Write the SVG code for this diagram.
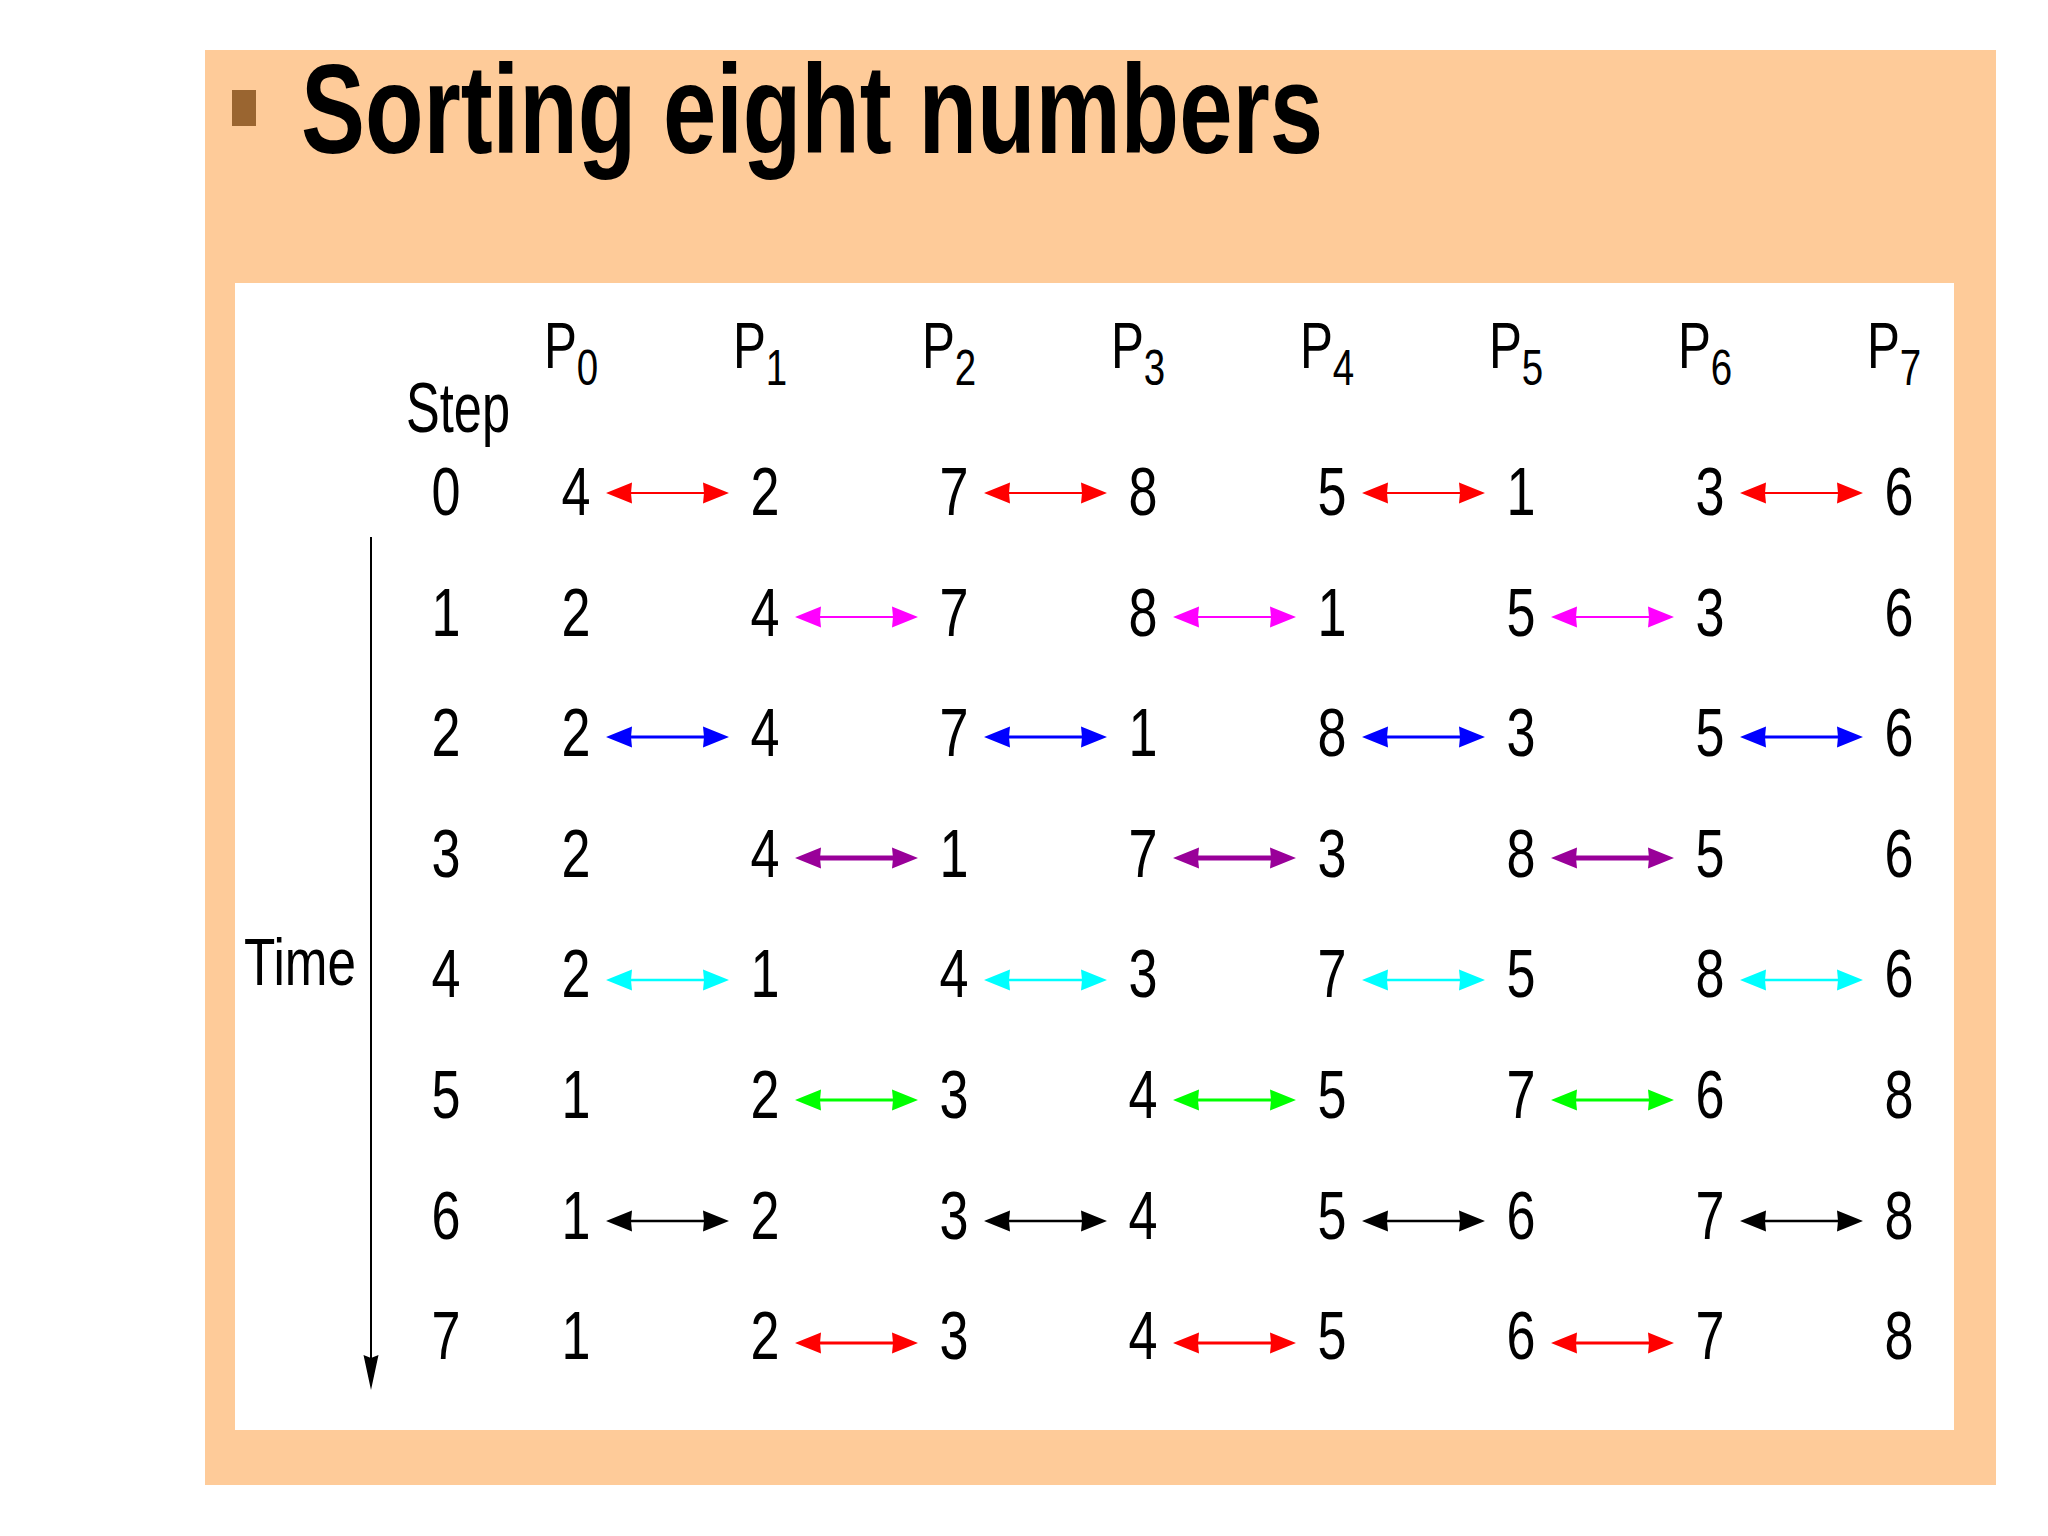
<svg xmlns="http://www.w3.org/2000/svg" width="2048" height="1536" viewBox="0 0 2048 1536">
<style>
text{font-family:"Liberation Sans",Arial,sans-serif;fill:#000}
.d{font-size:68px;text-anchor:middle}
.h{font-size:64px}
.s{font-size:50px}
.ln{fill:none}
</style>
<defs>
<marker id="a-red" viewBox="0 -12 30 24" refX="10" refY="0" markerWidth="30" markerHeight="24" markerUnits="userSpaceOnUse" orient="auto-start-reverse"><path d="M30,0 L4,-10.5 L5,0 L4,10.5 Z" fill="#FF0000"/></marker>
<marker id="a-mag" viewBox="0 -12 30 24" refX="10" refY="0" markerWidth="30" markerHeight="24" markerUnits="userSpaceOnUse" orient="auto-start-reverse"><path d="M30,0 L4,-10.5 L5,0 L4,10.5 Z" fill="#FF00FF"/></marker>
<marker id="a-blue" viewBox="0 -12 30 24" refX="10" refY="0" markerWidth="30" markerHeight="24" markerUnits="userSpaceOnUse" orient="auto-start-reverse"><path d="M30,0 L4,-10.5 L5,0 L4,10.5 Z" fill="#0000FF"/></marker>
<marker id="a-pur" viewBox="0 -12 30 24" refX="10" refY="0" markerWidth="30" markerHeight="24" markerUnits="userSpaceOnUse" orient="auto-start-reverse"><path d="M30,0 L4,-10.5 L5,0 L4,10.5 Z" fill="#990099"/></marker>
<marker id="a-cyan" viewBox="0 -12 30 24" refX="10" refY="0" markerWidth="30" markerHeight="24" markerUnits="userSpaceOnUse" orient="auto-start-reverse"><path d="M30,0 L4,-10.5 L5,0 L4,10.5 Z" fill="#00FFFF"/></marker>
<marker id="a-green" viewBox="0 -12 30 24" refX="10" refY="0" markerWidth="30" markerHeight="24" markerUnits="userSpaceOnUse" orient="auto-start-reverse"><path d="M30,0 L4,-10.5 L5,0 L4,10.5 Z" fill="#00FF00"/></marker>
<marker id="a-black" viewBox="0 -12 30 24" refX="10" refY="0" markerWidth="30" markerHeight="24" markerUnits="userSpaceOnUse" orient="auto-start-reverse"><path d="M30,0 L4,-10.5 L5,0 L4,10.5 Z" fill="#000000"/></marker>
<marker id="a-time" viewBox="0 -9 36 18" refX="6" refY="0" markerWidth="36" markerHeight="18" markerUnits="userSpaceOnUse" orient="auto"><path d="M36,0 L1,-7.5 L4,0 L1,7.5 Z" fill="#000000"/></marker>
</defs>

<rect width="2048" height="1536" fill="#FFFFFF"/>
<rect x="205" y="50" width="1791" height="1435" fill="#FECB99"/>
<g id="title">
<rect x="232" y="90" width="24" height="36" fill="#9A6530"/>
<text x="301" y="153" font-size="126" font-weight="bold" textLength="1022" lengthAdjust="spacingAndGlyphs">Sorting eight numbers</text>
</g>
<rect x="235" y="283" width="1719" height="1147" fill="#FFFFFF"/>

<g id="headers">
<text x="406" y="432" font-size="71" textLength="104" lengthAdjust="spacingAndGlyphs">Step</text>
<text x="244" y="985" font-size="66" textLength="112" lengthAdjust="spacingAndGlyphs">Time</text>
<text class="h" transform="translate(544 368) scale(0.77 1)">P<tspan class="s" dy="17">0</tspan></text>
<text class="h" transform="translate(733 368) scale(0.77 1)">P<tspan class="s" dy="17">1</tspan></text>
<text class="h" transform="translate(922 368) scale(0.77 1)">P<tspan class="s" dy="17">2</tspan></text>
<text class="h" transform="translate(1111 368) scale(0.77 1)">P<tspan class="s" dy="17">3</tspan></text>
<text class="h" transform="translate(1300 368) scale(0.77 1)">P<tspan class="s" dy="17">4</tspan></text>
<text class="h" transform="translate(1489 368) scale(0.77 1)">P<tspan class="s" dy="17">5</tspan></text>
<text class="h" transform="translate(1678 368) scale(0.77 1)">P<tspan class="s" dy="17">6</tspan></text>
<text class="h" transform="translate(1867 368) scale(0.77 1)">P<tspan class="s" dy="17">7</tspan></text>
</g>

<g id="row0">
<text class="d" x="446" y="515" textLength="29" lengthAdjust="spacingAndGlyphs">0</text>
<text class="d" x="576" y="515" textLength="29" lengthAdjust="spacingAndGlyphs">4</text>
<text class="d" x="765" y="515" textLength="29" lengthAdjust="spacingAndGlyphs">2</text>
<text class="d" x="954" y="515" textLength="29" lengthAdjust="spacingAndGlyphs">7</text>
<text class="d" x="1143" y="515" textLength="29" lengthAdjust="spacingAndGlyphs">8</text>
<text class="d" x="1332" y="515" textLength="29" lengthAdjust="spacingAndGlyphs">5</text>
<text class="d" x="1521" y="515" textLength="29" lengthAdjust="spacingAndGlyphs">1</text>
<text class="d" x="1710" y="515" textLength="29" lengthAdjust="spacingAndGlyphs">3</text>
<text class="d" x="1899" y="515" textLength="29" lengthAdjust="spacingAndGlyphs">6</text>
</g>
<g id="row1">
<text class="d" x="446" y="636" textLength="29" lengthAdjust="spacingAndGlyphs">1</text>
<text class="d" x="576" y="636" textLength="29" lengthAdjust="spacingAndGlyphs">2</text>
<text class="d" x="765" y="636" textLength="29" lengthAdjust="spacingAndGlyphs">4</text>
<text class="d" x="954" y="636" textLength="29" lengthAdjust="spacingAndGlyphs">7</text>
<text class="d" x="1143" y="636" textLength="29" lengthAdjust="spacingAndGlyphs">8</text>
<text class="d" x="1332" y="636" textLength="29" lengthAdjust="spacingAndGlyphs">1</text>
<text class="d" x="1521" y="636" textLength="29" lengthAdjust="spacingAndGlyphs">5</text>
<text class="d" x="1710" y="636" textLength="29" lengthAdjust="spacingAndGlyphs">3</text>
<text class="d" x="1899" y="636" textLength="29" lengthAdjust="spacingAndGlyphs">6</text>
</g>
<g id="row2">
<text class="d" x="446" y="756" textLength="29" lengthAdjust="spacingAndGlyphs">2</text>
<text class="d" x="576" y="756" textLength="29" lengthAdjust="spacingAndGlyphs">2</text>
<text class="d" x="765" y="756" textLength="29" lengthAdjust="spacingAndGlyphs">4</text>
<text class="d" x="954" y="756" textLength="29" lengthAdjust="spacingAndGlyphs">7</text>
<text class="d" x="1143" y="756" textLength="29" lengthAdjust="spacingAndGlyphs">1</text>
<text class="d" x="1332" y="756" textLength="29" lengthAdjust="spacingAndGlyphs">8</text>
<text class="d" x="1521" y="756" textLength="29" lengthAdjust="spacingAndGlyphs">3</text>
<text class="d" x="1710" y="756" textLength="29" lengthAdjust="spacingAndGlyphs">5</text>
<text class="d" x="1899" y="756" textLength="29" lengthAdjust="spacingAndGlyphs">6</text>
</g>
<g id="row3">
<text class="d" x="446" y="877" textLength="29" lengthAdjust="spacingAndGlyphs">3</text>
<text class="d" x="576" y="877" textLength="29" lengthAdjust="spacingAndGlyphs">2</text>
<text class="d" x="765" y="877" textLength="29" lengthAdjust="spacingAndGlyphs">4</text>
<text class="d" x="954" y="877" textLength="29" lengthAdjust="spacingAndGlyphs">1</text>
<text class="d" x="1143" y="877" textLength="29" lengthAdjust="spacingAndGlyphs">7</text>
<text class="d" x="1332" y="877" textLength="29" lengthAdjust="spacingAndGlyphs">3</text>
<text class="d" x="1521" y="877" textLength="29" lengthAdjust="spacingAndGlyphs">8</text>
<text class="d" x="1710" y="877" textLength="29" lengthAdjust="spacingAndGlyphs">5</text>
<text class="d" x="1899" y="877" textLength="29" lengthAdjust="spacingAndGlyphs">6</text>
</g>
<g id="row4">
<text class="d" x="446" y="997" textLength="29" lengthAdjust="spacingAndGlyphs">4</text>
<text class="d" x="576" y="997" textLength="29" lengthAdjust="spacingAndGlyphs">2</text>
<text class="d" x="765" y="997" textLength="29" lengthAdjust="spacingAndGlyphs">1</text>
<text class="d" x="954" y="997" textLength="29" lengthAdjust="spacingAndGlyphs">4</text>
<text class="d" x="1143" y="997" textLength="29" lengthAdjust="spacingAndGlyphs">3</text>
<text class="d" x="1332" y="997" textLength="29" lengthAdjust="spacingAndGlyphs">7</text>
<text class="d" x="1521" y="997" textLength="29" lengthAdjust="spacingAndGlyphs">5</text>
<text class="d" x="1710" y="997" textLength="29" lengthAdjust="spacingAndGlyphs">8</text>
<text class="d" x="1899" y="997" textLength="29" lengthAdjust="spacingAndGlyphs">6</text>
</g>
<g id="row5">
<text class="d" x="446" y="1118" textLength="29" lengthAdjust="spacingAndGlyphs">5</text>
<text class="d" x="576" y="1118" textLength="29" lengthAdjust="spacingAndGlyphs">1</text>
<text class="d" x="765" y="1118" textLength="29" lengthAdjust="spacingAndGlyphs">2</text>
<text class="d" x="954" y="1118" textLength="29" lengthAdjust="spacingAndGlyphs">3</text>
<text class="d" x="1143" y="1118" textLength="29" lengthAdjust="spacingAndGlyphs">4</text>
<text class="d" x="1332" y="1118" textLength="29" lengthAdjust="spacingAndGlyphs">5</text>
<text class="d" x="1521" y="1118" textLength="29" lengthAdjust="spacingAndGlyphs">7</text>
<text class="d" x="1710" y="1118" textLength="29" lengthAdjust="spacingAndGlyphs">6</text>
<text class="d" x="1899" y="1118" textLength="29" lengthAdjust="spacingAndGlyphs">8</text>
</g>
<g id="row6">
<text class="d" x="446" y="1239" textLength="29" lengthAdjust="spacingAndGlyphs">6</text>
<text class="d" x="576" y="1239" textLength="29" lengthAdjust="spacingAndGlyphs">1</text>
<text class="d" x="765" y="1239" textLength="29" lengthAdjust="spacingAndGlyphs">2</text>
<text class="d" x="954" y="1239" textLength="29" lengthAdjust="spacingAndGlyphs">3</text>
<text class="d" x="1143" y="1239" textLength="29" lengthAdjust="spacingAndGlyphs">4</text>
<text class="d" x="1332" y="1239" textLength="29" lengthAdjust="spacingAndGlyphs">5</text>
<text class="d" x="1521" y="1239" textLength="29" lengthAdjust="spacingAndGlyphs">6</text>
<text class="d" x="1710" y="1239" textLength="29" lengthAdjust="spacingAndGlyphs">7</text>
<text class="d" x="1899" y="1239" textLength="29" lengthAdjust="spacingAndGlyphs">8</text>
</g>
<g id="row7">
<text class="d" x="446" y="1359" textLength="29" lengthAdjust="spacingAndGlyphs">7</text>
<text class="d" x="576" y="1359" textLength="29" lengthAdjust="spacingAndGlyphs">1</text>
<text class="d" x="765" y="1359" textLength="29" lengthAdjust="spacingAndGlyphs">2</text>
<text class="d" x="954" y="1359" textLength="29" lengthAdjust="spacingAndGlyphs">3</text>
<text class="d" x="1143" y="1359" textLength="29" lengthAdjust="spacingAndGlyphs">4</text>
<text class="d" x="1332" y="1359" textLength="29" lengthAdjust="spacingAndGlyphs">5</text>
<text class="d" x="1521" y="1359" textLength="29" lengthAdjust="spacingAndGlyphs">6</text>
<text class="d" x="1710" y="1359" textLength="29" lengthAdjust="spacingAndGlyphs">7</text>
<text class="d" x="1899" y="1359" textLength="29" lengthAdjust="spacingAndGlyphs">8</text>
</g>

<g id="connectors" class="ln">
<path d="M371,537 V1360" stroke="#000" stroke-width="2" marker-end="url(#a-time)"/>
<g stroke="#FF0000" stroke-width="2" marker-start="url(#a-red)" marker-end="url(#a-red)">
<path d="M626,493 H709"/><path d="M1004,493 H1087"/><path d="M1382,493 H1465"/><path d="M1760,493 H1843"/>
</g>
<g stroke="#FF00FF" stroke-width="2" marker-start="url(#a-mag)" marker-end="url(#a-mag)">
<path d="M815,617 H898"/><path d="M1193,617 H1276"/><path d="M1571,617 H1654"/>
</g>
<g stroke="#0000FF" stroke-width="3" marker-start="url(#a-blue)" marker-end="url(#a-blue)">
<path d="M626,737 H709"/><path d="M1004,737 H1087"/><path d="M1382,737 H1465"/><path d="M1760,737 H1843"/>
</g>
<g stroke="#990099" stroke-width="5" marker-start="url(#a-pur)" marker-end="url(#a-pur)">
<path d="M815,858 H898"/><path d="M1193,858 H1276"/><path d="M1571,858 H1654"/>
</g>
<g stroke="#00FFFF" stroke-width="2.5" marker-start="url(#a-cyan)" marker-end="url(#a-cyan)">
<path d="M626,980 H709"/><path d="M1004,980 H1087"/><path d="M1382,980 H1465"/><path d="M1760,980 H1843"/>
</g>
<g stroke="#00FF00" stroke-width="3" marker-start="url(#a-green)" marker-end="url(#a-green)">
<path d="M815,1100 H898"/><path d="M1193,1100 H1276"/><path d="M1571,1100 H1654"/>
</g>
<g stroke="#000000" stroke-width="2.5" marker-start="url(#a-black)" marker-end="url(#a-black)">
<path d="M626,1221 H709"/><path d="M1004,1221 H1087"/><path d="M1382,1221 H1465"/><path d="M1760,1221 H1843"/>
</g>
<g stroke="#FF0000" stroke-width="3" marker-start="url(#a-red)" marker-end="url(#a-red)">
<path d="M815,1343 H898"/><path d="M1193,1343 H1276"/><path d="M1571,1343 H1654"/>
</g>
</g>
</svg>
